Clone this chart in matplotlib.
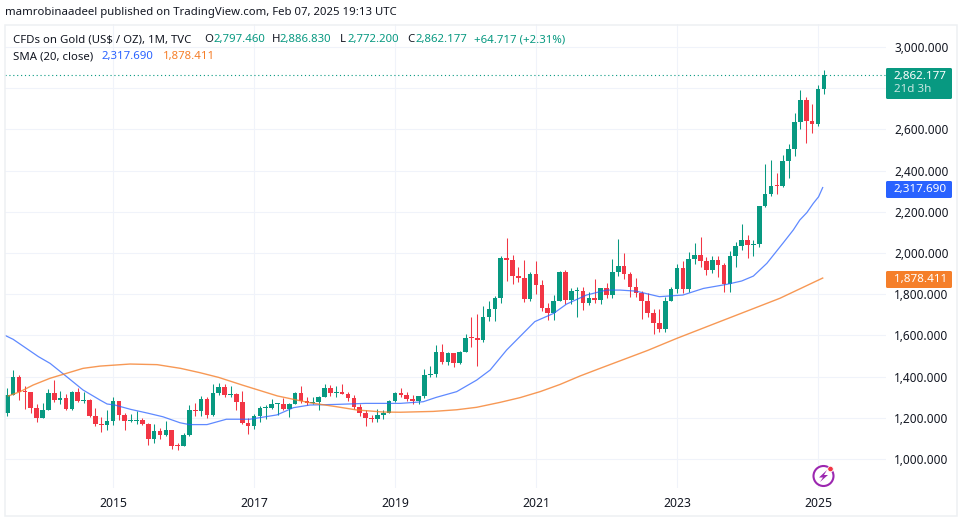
import matplotlib
matplotlib.use("Agg")
import matplotlib.pyplot as plt
from matplotlib.patches import Rectangle, Circle, Polygon, FancyBboxPatch
from matplotlib.ticker import FuncFormatter

W, H = 961, 520
# month index 0 = Jul 2013
opens = [1223,1313,1396,1327,1323,1250,1201,1240,1321,1284,1296,1245,1327,1282,1287,1210,1171,1167,
         1184,1283,1213,1183,1184,1190,1172,1095,1134,1115,1142,1065,1061,1118,1238,1234,1293,1215,
         1322,1351,1309,1316,1277,1173,1159,1211,1248,1249,1268,1269,1242,1269,1321,1280,1271,1275,
         1303,1345,1318,1325,1315,1298,1253,1223,1201,1192,1215,1222,1282,1321,1313,1292,1283,1305,
         1409,1413,1520,1472,1513,1464,1517,1589,1585,1577,1687,1730,1781,1975,1967,1886,1879,1777,
         1898,1847,1734,1707,1769,1906,1770,1814,1814,1757,1783,1774,1829,1797,1909,1937,1897,1837,
         1807,1766,1711,1660,1633,1768,1824,1928,1827,1969,1990,1962,1919,1965,1940,1849,1984,2036,
         2063,2039,2044,2230,2286,2327,2326,2447,2503,2634,2744,2643,2624,2797.46]
highs = [1345,1430,1410,1356,1323,1268,1272,1338,1383,1331,1315,1330,1345,1323,1293,1246,1206,1238,
         1301,1283,1224,1218,1232,1197,1177,1170,1149,1184,1142,1079,1125,1260,1273,1305,1303,1362,
         1370,1366,1352,1318,1330,1199,1219,1259,1263,1290,1270,1296,1270,1326,1355,1302,1299,1307,
         1362,1361,1352,1365,1325,1309,1265,1237,1214,1243,1237,1284,1326,1345,1324,1309,1305,1436,
         1450,1552,1557,1518,1516,1525,1607,1687,1702,1745,1765,1790,1984,2072,1992,1933,1966,1906,
         1959,1871,1755,1798,1912,1916,1832,1834,1836,1813,1872,1830,1853,1972,2070,1998,1910,1880,
         1815,1805,1730,1730,1786,1833,1949,1960,2005,2048,2079,1983,1987,1987,1953,2009,2052,2140,
         2088,2065,2230,2431,2450,2387,2478,2528,2680,2790,2757,2722,2817,2886.83]
lows = [1207,1310,1286,1245,1221,1180,1201,1240,1277,1265,1240,1240,1276,1272,1206,1158,1130,1142,
        1167,1190,1140,1178,1170,1163,1070,1077,1098,1113,1049,1046,1061,1112,1207,1208,1200,1208,
        1311,1300,1302,1240,1171,1122,1146,1180,1195,1242,1214,1236,1204,1265,1272,1260,1265,1236,
        1302,1307,1303,1316,1282,1245,1207,1158,1180,1182,1196,1221,1275,1300,1280,1266,1266,1296,
        1400,1400,1459,1458,1445,1459,1517,1545,1450,1567,1670,1671,1757,1863,1848,1860,1764,1765,
        1802,1717,1676,1677,1766,1750,1750,1687,1721,1746,1759,1753,1780,1780,1890,1872,1786,1785,
        1678,1688,1607,1617,1616,1766,1805,1804,1810,1949,1932,1893,1903,1885,1812,1810,1931,2016,
        1975,1984,2030,2222,2277,2287,2318,2364,2471,2604,2536,2583,2615,2772.2]
closes = opens[1:] + [2862.177]

blue_months = [-0.3,1,5.3,7.3,10.1,12.9,15.8,17,18.3,21,24,26.5,29.4,31,34,37.3,41.3,45.9,48.7,51.5,56,61,
               66.9,70.8,73,76.5,79.9,82.2,85,86.7,89.8,93,95.2,98.6,102,104.3,107,111,115,118.5,122.5,
               125,127,129.3,132.1,133.8,134.9,136.1,137.2,138.1,138.8]
blue_vals = [1599,1581,1497,1464,1400,1335,1286,1267,1262,1241,1222,1205,1176,1167,1167,1193,1193,1214,1249,
             1262,1265,1270,1270,1278,1299,1327,1383,1432,1529,1578,1667,1707,1752,1796,1820,1820,1815,1788,
             1796,1828,1848,1864,1888,1950,2050,2112,2160,2196,2241,2273,2317.69]
orange_months = [0.2,2.2,4.4,7.3,10.1,12.9,15.8,20.9,25.5,29.5,32.8,36,40,46,51.5,56,59.5,64,66.9,72.5,76.5,
                 79.9,83.9,87.3,90.7,94.1,97.5,100.9,107.7,109,114,121.3,131.5,138.8]
orange_vals = [1306,1327,1359,1392,1416,1440,1451,1461,1458,1440,1419,1396,1359,1306,1273,1254,1238,1228,
               1227,1231,1239,1251,1275,1298,1327,1362,1403,1440,1513,1527,1586,1667,1780,1878.41]

year_ticks = [18, 42, 66, 90, 114, 138]
year_labels = ["2015", "2017", "2019", "2021", "2023", "2025"]
price_ticks = [1000, 1200, 1400, 1600, 1800, 2000, 2200, 2400, 2600, 2800, 3000]
hidden_price_label = 2800  # covered by the last-price tag in the reference

UP, DOWN = "#089981", "#f23645"
BLUE, ORANGE = "#2962ff", "#f57f2a"
GRID = "#f0f3fa"
FONT = ["Noto Sans", "DejaVu Sans"]
plt.rcParams["font.family"] = FONT

fig = plt.figure(figsize=(W/100, H/100), dpi=100, facecolor="white")
PL, PR, PT, PB = 5, 886, 24, 488
ax = fig.add_axes([PL/W, 1-PB/H, (PR-PL)/W, (PB-PT)/H])
# pixel -> data mapping taken from the axis labels
ax.set_xlim((PL-7.25)/5.875, (PR-7.25)/5.875)
ax.set_ylim(1000+(459-PB)/0.206, 1000+(459-PT)/0.206)
for s in ax.spines.values():
    s.set_visible(False)
ax.grid(True, color=GRID, lw=0.8)
ax.set_axisbelow(True)
ax.yaxis.tick_right()
ax.set_yticks(price_ticks)
ax.yaxis.set_major_formatter(FuncFormatter(lambda v, _: "" if v == hidden_price_label else f"{v:,.3f}"))
ax.set_xticks(year_ticks)
ax.set_xticklabels(year_labels)
ax.tick_params(length=0, colors="#131722")
ax.tick_params(axis="y", labelsize=8.5, pad=5.8)
ax.tick_params(axis="x", labelsize=8.8, pad=6.5)
for t in ax.get_xticklabels():
    t.set_fontweight("medium")

for i, (o, h, l, c) in enumerate(zip(opens, highs, lows, closes)):
    col = UP if c >= o else DOWN
    ax.vlines(i, l, h, color=col, lw=0.75, zorder=3)
    ax.bar(i, max(abs(c-o), 5), bottom=min(o, c), width=0.78, color=col, lw=0, zorder=3)

ax.plot(blue_months, blue_vals, color=BLUE, lw=0.9, alpha=0.75, zorder=4)
ax.plot(orange_months, orange_vals, color=ORANGE, lw=1.0, alpha=0.8, zorder=4)
ax.axhline(closes[-1], color=UP, lw=0.8, ls=(0, (1, 2.5)), zorder=2)

# overlay in pixel coordinates
ov = fig.add_axes([0, 0, 1, 1], facecolor="none")
ov.set_xlim(0, W); ov.set_ylim(H, 0); ov.axis("off")
ov.add_patch(Rectangle((4.5, 24.5), 952.5, 491.5, fill=False, ec="#eef0f3", lw=1.1))

def price_tag(y0, y1, color, txt, sub=None):
    ov.add_patch(FancyBboxPatch((887, y0+1), 64, y1-y0-2, boxstyle="round,pad=1,rounding_size=1.5",
                                fc=color, ec="none", lw=0, zorder=5))
    if sub:
        ov.text(894, y0+8, txt, color="white", fontsize=8.4, va="center", fontweight="medium", zorder=6)
        ov.text(894, y0+22, sub, color="#c5e6e0", fontsize=8.4, va="center", fontweight="medium", zorder=6)
    else:
        ov.text(894, (y0+y1)/2, txt, color="white", fontsize=8.4, va="center", fontweight="medium", zorder=6)

price_tag(68, 99, UP, "2,862.177", "21d 3h")
price_tag(181, 198, BLUE, "2,317.690")
price_tag(271, 288, ORANGE, "1,878.411")

SZ = 8.2
ov.text(5, 13, "mamrobinaadeel published on TradingView.com, Feb 07, 2025 19:13 UTC", fontsize=SZ, color="#131722", va="center")
INK = "#131722"
ov.text(13, 39.5, "CFDs on Gold (US$ / OZ), 1M, TVC", fontsize=SZ, color=INK, va="center")
for x, t, col in [(204, "O", INK), (213, "2,797.460", UP), (272, "H", INK), (280, "2,886.830", UP),
                  (340, "L", INK), (347, "2,772.200", UP), (407, "C", INK), (415, "2,862.177", UP),
                  (474, "+64.717 (+2.31%)", UP)]:
    ov.text(x, 39.5, t, fontsize=SZ, color=col, va="center")
ov.text(13, 57, "SMA (20, close)", fontsize=SZ, color=INK, va="center")
ov.text(102, 57, "2,317.690", fontsize=SZ, color=BLUE, va="center")
ov.text(163, 57, "1,878.411", fontsize=SZ, color=ORANGE, va="center")

# lightning badge
PURPLE = "#9c27b0"
ov.add_patch(Circle((823.5, 476), 10, fc="white", ec=PURPLE, lw=1.5, zorder=6))
ov.add_patch(Polygon([(827, 470), (819, 477.5), (823, 477.5), (820, 482), (828, 475), (824, 475)],
                     closed=True, fc=PURPLE, ec="none", zorder=6))
ov.add_patch(Circle((830.5, 469), 2.8, fc=DOWN, ec="white", lw=0.6, zorder=7))

fig.savefig("out.png", dpi=100, facecolor="white")
